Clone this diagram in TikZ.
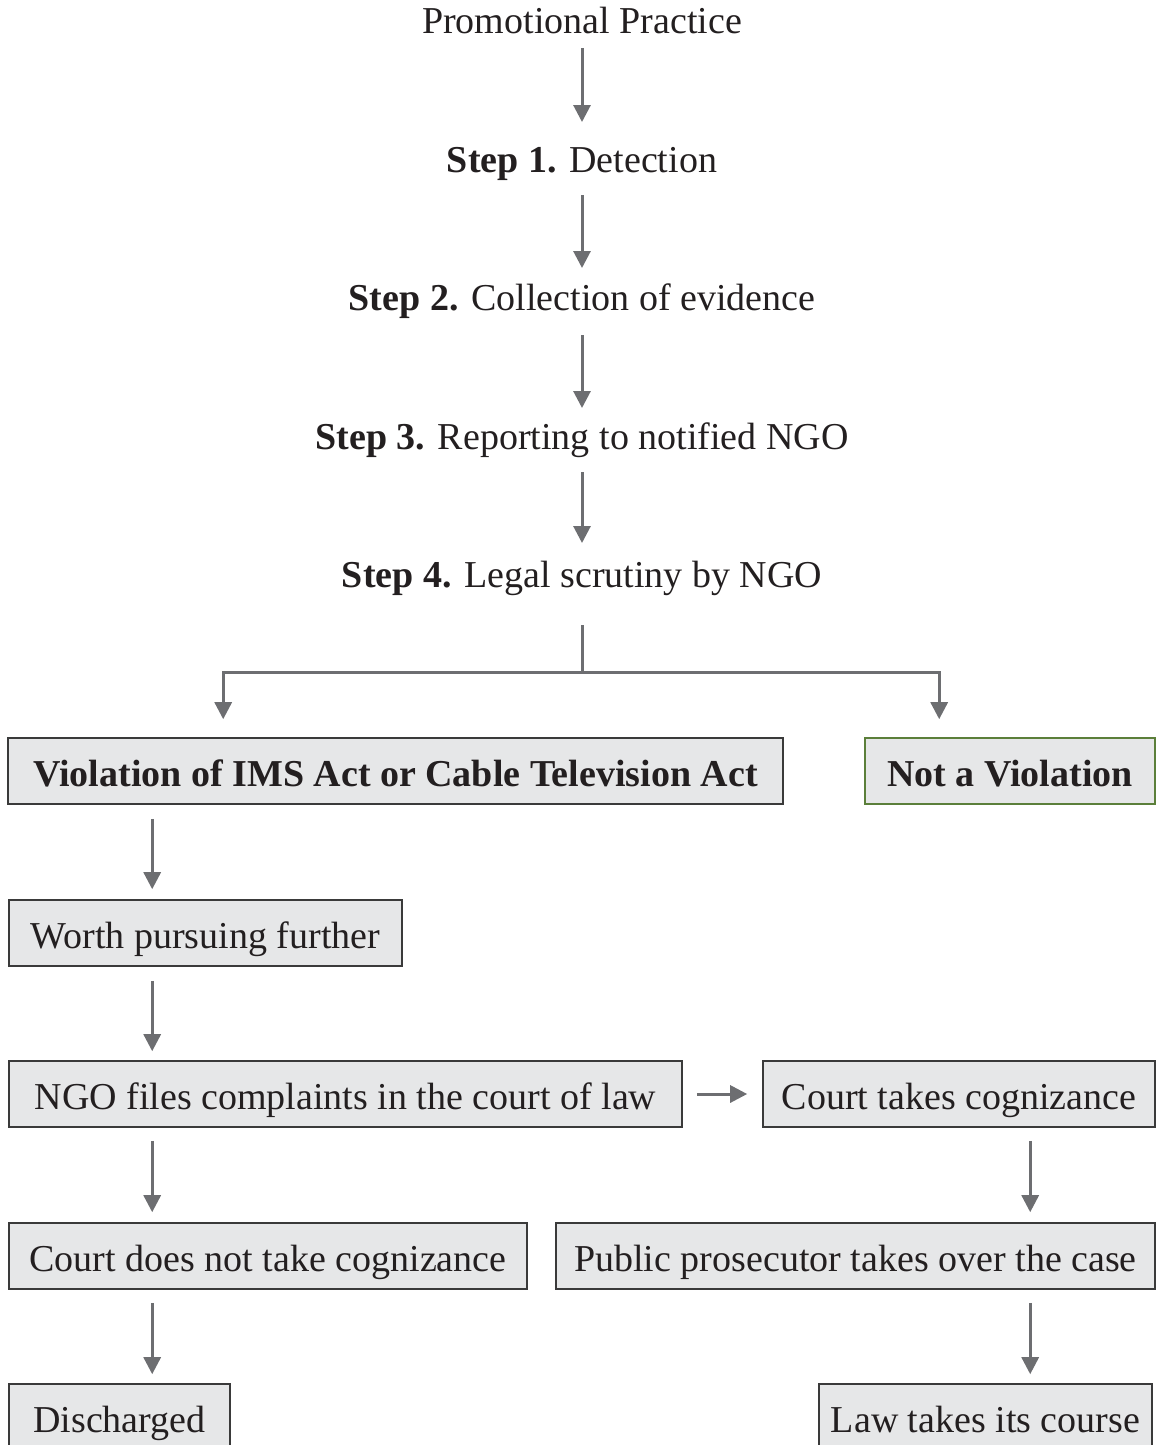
\documentclass[tikz,border=0pt]{standalone}
\usepackage{fontspec}
\setmainfont{Liberation Serif}
\usetikzlibrary{arrows.meta}
\definecolor{txt}{HTML}{231F20}
\definecolor{arrgrey}{HTML}{6D6E71}
\definecolor{boxfill}{HTML}{E6E7E8}
\definecolor{boxline}{HTML}{3A3A3A}
\definecolor{greenline}{HTML}{5B7F3A}
\tikzset{
  lbl/.style={inner sep=0pt, text=txt, anchor=base, font=\fontsize{38}{44}\selectfont},
  flowbox/.style={draw=boxline, line width=1.6pt, fill=boxfill, text=txt, inner sep=0pt,
    font=\fontsize{38}{44}\selectfont, minimum height=66pt, text height=30pt, text depth=0pt},
  conn/.style={draw=arrgrey, line width=3pt},
  arr/.style={conn, -{Triangle[width=17pt,length=17pt]}},
}
\begin{document}
\begin{tikzpicture}[x=1pt,y=-1pt]
\useasboundingbox (0,0) rectangle (1158,1445);
\clip (0,0) rectangle (1158,1445);
% top texts
\node[lbl] (p0) at (582,34) {Promotional Practice};
\node[lbl] (s1) at (582,172) {\textbf{Step 1.} Detection};
\node[lbl] (s2) at (582,310) {\textbf{Step 2.} Collection of evidence};
\node[lbl] (s3) at (582,449) {\textbf{Step 3.} Reporting to notified NGO};
\node[lbl] (s4) at (582,587) {\textbf{Step 4.} Legal scrutiny by NGO};
% boxes
\node[flowbox, minimum width=775pt, font=\fontsize{38}{44}\selectfont\bfseries] (viol) at (395.5,771) {Violation of IMS Act or Cable Television Act};
\node[flowbox, draw=greenline, minimum width=290pt, font=\fontsize{38}{44}\selectfont\bfseries] (notv) at (1010,771) {Not a Violation};
\node[flowbox, minimum width=393pt] (worth) at (205.5,933) {Worth pursuing further};
\node[flowbox, minimum width=673pt] (ngo) at (345.5,1094) {NGO files complaints in the court of law};
\node[flowbox, minimum width=392pt] (ctc) at (959,1094) {Court takes cognizance};
\node[flowbox, minimum width=518pt] (cdn) at (268,1256) {Court does not take cognizance};
\node[flowbox, minimum width=599pt] (ppt) at (855.5,1256) {Public prosecutor takes over the case};
\node[flowbox, minimum width=221pt] (dis) at (119.5,1417) {Discharged};
\node[flowbox, minimum width=333pt] (law) at (985.5,1417) {Law takes its course};
% top arrows
\draw[arr] ([yshift=-14pt]p0.base) -- ([yshift=50pt]s1.base);
\draw[arr] ([yshift=-23pt]s1.base) -- ([yshift=42pt]s2.base);
\draw[arr] ([yshift=-25pt]s2.base) -- ([yshift=41pt]s3.base);
\draw[arr] ([yshift=-23pt]s3.base) -- ([yshift=44pt]s4.base);
% branch
\draw[conn] ([yshift=-38pt]s4.base) -- ++(0,47) coordinate (br);
\draw[arr, shorten >=18pt] (br) -| ([xshift=216pt]viol.north west);
\draw[arr, shorten >=18pt] (br) -| ([xshift=75pt]notv.north west);
% left column
\draw[arr, shorten <=14pt, shorten >=10pt] ([xshift=145pt]viol.south west) -- ([xshift=144pt]worth.north west);
\draw[arr, shorten <=14pt, shorten >=9pt] ([xshift=144pt]worth.south west) -- ([xshift=144pt]ngo.north west);
\draw[arr, shorten <=13pt, shorten >=10pt] ([xshift=144pt]ngo.south west) -- ([xshift=144pt]cdn.north west);
\draw[arr, shorten <=13pt, shorten >=9pt] ([xshift=144pt]cdn.south west) -- ([xshift=144pt]dis.north west);
% right column
\draw[arr, shorten <=14pt, shorten >=15pt] (ngo) -- (ctc);
\draw[arr, shorten <=13pt, shorten >=10pt] ([xshift=268pt]ctc.south west) -- ([xshift=475pt]ppt.north west);
\draw[arr, shorten <=13pt, shorten >=9pt] ([xshift=475pt]ppt.south west) -- ([xshift=212pt]law.north west);
\end{tikzpicture}
\end{document}
